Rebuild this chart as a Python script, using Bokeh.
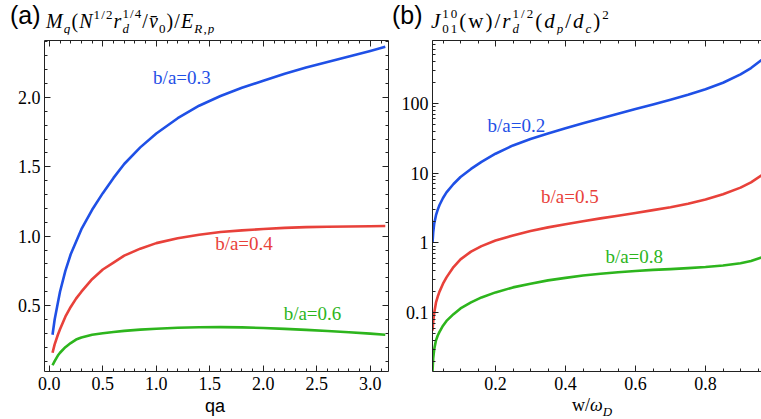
from bokeh.plotting import figure
from bokeh.layouts import row, column
from bokeh.models import (Range1d, LinearAxis, FixedTicker, Label, Div,
                          CustomJSTickFormatter, PrintfTickFormatter)
from bokeh.embed import file_html
from bokeh.resources import INLINE

# ---------------- data ----------------
qa = [0.03, 0.05, 0.08, 0.1, 0.15, 0.2, 0.25, 0.3, 0.4, 0.5, 0.6, 0.7, 0.85, 1.0,
      1.2, 1.4, 1.6, 1.8, 2.0, 2.2, 2.4, 2.6, 2.8, 3.0, 3.14]
m_b03 = [0.29, 0.40, 0.52, 0.60, 0.75, 0.87, 0.96, 1.05, 1.19, 1.31, 1.42, 1.52, 1.64, 1.74,
         1.85, 1.94, 2.01, 2.07, 2.12, 2.17, 2.215, 2.255, 2.295, 2.335, 2.365]
m_b04 = [0.16, 0.22, 0.29, 0.33, 0.42, 0.49, 0.55, 0.60, 0.69, 0.76, 0.81, 0.86, 0.91, 0.95,
         0.985, 1.01, 1.03, 1.042, 1.052, 1.06, 1.065, 1.068, 1.07, 1.072, 1.073]
m_b06 = [0.07, 0.10, 0.14, 0.16, 0.20, 0.23, 0.255, 0.27, 0.29, 0.30, 0.31, 0.318, 0.327, 0.333,
         0.34, 0.344, 0.345, 0.343, 0.338, 0.332, 0.325, 0.317, 0.308, 0.298, 0.29]

w = [0.02, 0.022, 0.025, 0.03, 0.035, 0.04, 0.05, 0.06, 0.08, 0.1, 0.13, 0.16, 0.2, 0.25,
     0.3, 0.35, 0.4, 0.45, 0.5, 0.55, 0.6, 0.65, 0.7, 0.75, 0.8, 0.85, 0.9, 0.93, 0.96]
j_b02 = [1.0, 1.4, 1.9, 2.5, 3.0, 3.5, 4.4, 5.3, 7.0, 8.8, 11.5, 14.5, 19, 25,
         31, 37, 44, 52, 61, 71, 83, 97, 113, 133, 160, 198, 262, 322, 420]
j_b05 = [0.055, 0.075, 0.10, 0.14, 0.17, 0.20, 0.26, 0.32, 0.45, 0.58, 0.75, 0.90, 1.08, 1.28,
         1.48, 1.67, 1.85, 2.05, 2.25, 2.45, 2.68, 2.95, 3.25, 3.65, 4.2, 5.0, 6.2, 7.4, 9.3]
j_b08 = [0.0143, 0.022, 0.030, 0.040, 0.047, 0.053, 0.065, 0.076, 0.095, 0.115, 0.14, 0.165,
         0.195, 0.23, 0.26, 0.29, 0.315, 0.34, 0.36, 0.38, 0.395, 0.41, 0.42, 0.435, 0.45,
         0.475, 0.51, 0.55, 0.62]

left_xticks = [0.0, 0.5, 1.0, 1.5, 2.0, 2.5, 3.0]
left_yticks = [0.5, 1.0, 1.5, 2.0]
right_xticks = [0.2, 0.4, 0.6, 0.8]
right_yticks = [0.1, 1, 10, 100]
right_ylabels = {0.1: "0.1", 1: "1", 10: "10", 100: "100"}

left_notes = [("b/a=0.3", 0.97, 2.14), ("b/a=0.4", 1.55, 0.95), ("b/a=0.6", 2.19, 0.44)]
right_notes = [("b/a=0.2", 0.177, 49), ("b/a=0.5", 0.33, 4.7), ("b/a=0.8", 0.514, 0.63)]

BLUE = "#1f50e6"
RED = "#e8413a"
GREEN = "#2db51d"
COLORS = [BLUE, RED, GREEN]
FRAME = "#222222"
SERIF = "Liberation Serif"
SANS = "Liberation Sans"
TICKFS = "18px"
NOTEFS = "19px"

blank = CustomJSTickFormatter(code="return ''")


def style_axis(ax, labels=True):
    ax.axis_line_color = FRAME
    ax.axis_line_width = 1
    ax.major_tick_in = 6
    ax.major_tick_out = 0
    ax.minor_tick_in = 3
    ax.minor_tick_out = 0
    ax.major_tick_line_color = FRAME
    ax.minor_tick_line_color = FRAME
    ax.major_label_text_font = SERIF
    ax.major_label_text_font_size = TICKFS
    ax.major_label_text_color = "black"
    ax.major_label_standoff = 4
    if not labels:
        ax.formatter = blank
        ax.major_label_standoff = 0


# ---------------- left panel ----------------
p1 = figure(width=398, height=365, output_backend="svg", toolbar_location=None,
            x_range=Range1d(-0.045, 3.17), y_range=Range1d(0.025, 2.41),
            min_border_left=44, min_border_right=10, min_border_top=6,
            min_border_bottom=28)
p1.grid.visible = False
p1.outline_line_color = None

xt1 = FixedTicker(ticks=left_xticks, minor_ticks=[i * 0.1 for i in range(0, 32)])
yt1 = FixedTicker(ticks=left_yticks, minor_ticks=[i * 0.1 for i in range(1, 25)])
p1.xaxis[0].ticker = xt1
p1.yaxis[0].ticker = yt1
style_axis(p1.xaxis[0])
style_axis(p1.yaxis[0])
p1.xaxis[0].formatter = PrintfTickFormatter(format="%.1f")
p1.yaxis[0].formatter = PrintfTickFormatter(format="%.1f")
p1.xaxis[0].major_label_standoff = 5
top1 = LinearAxis(ticker=xt1)
right1 = LinearAxis(ticker=yt1)
style_axis(top1, labels=False)
style_axis(right1, labels=False)
p1.add_layout(top1, "above")
p1.add_layout(right1, "right")

for ys, c in zip([m_b03, m_b04, m_b06], COLORS):
    p1.line(qa, ys, line_color=c, line_width=2.6, line_join="round")
for (txt, x, y), c in zip(left_notes, COLORS):
    p1.add_layout(Label(x=x, y=y, text=txt, text_font=SERIF, text_font_size=NOTEFS,
                        text_color=c, text_baseline="middle", text_align="left"))

# ---------------- right panel ----------------
p2 = figure(width=363, height=365, output_backend="svg", toolbar_location=None,
            x_range=Range1d(0.02, 0.96), y_range=Range1d(0.0143, 800),
            y_axis_type="log",
            min_border_left=34, min_border_right=0, min_border_top=6,
            min_border_bottom=28)
p2.grid.visible = False
p2.outline_line_color = None

xt2 = FixedTicker(ticks=right_xticks, minor_ticks=[i * 0.05 for i in range(1, 20)])
yminor = [k * 10.0 ** e for e in range(-2, 3) for k in range(1, 10)]
yt2 = FixedTicker(ticks=right_yticks, minor_ticks=yminor)
p2.xaxis[0].ticker = xt2
p2.yaxis[0].ticker = yt2
style_axis(p2.xaxis[0])
style_axis(p2.yaxis[0])
p2.xaxis[0].major_label_standoff = 5
p2.yaxis[0].major_label_overrides = right_ylabels
top2 = LinearAxis(ticker=xt2)
style_axis(top2, labels=False)
p2.add_layout(top2, "above")

for ys, c in zip([j_b02, j_b05, j_b08], COLORS):
    p2.line(w, ys, line_color=c, line_width=2.6, line_join="round")
for (txt, x, y), c in zip(right_notes, COLORS):
    p2.add_layout(Label(x=x, y=y, text=txt, text_font=SERIF, text_font_size=NOTEFS,
                        text_color=c, text_baseline="middle", text_align="left"))

# ---------------- titles and axis labels as HTML ----------------
SUB = "font-size:13px;vertical-align:-5px;"
SUP = "font-size:13px;vertical-align:9px;"


def stack(top, bottom):
    return ("<span style='display:inline-block;font-size:13px;line-height:15px;"
            "vertical-align:-5px;'>" + top + "<br>" + bottom + "</span>")


def sub(t):
    return f"<span style='{SUB}'>{t}</span>"


def sup(t):
    return f"<span style='{SUP}'>{t}</span>"


formula_a = ("<i>M</i>" + sub("<i>q</i>") + "(<i>N</i>" + sup("1/2") + "<i>r</i>"
             + stack("1/4", "<i>d</i>") + "/<i>v&#772;</i>" + sub("0") + ")/<i>E</i>"
             + sub("<i>R,p</i>"))
formula_b = ("<i>J</i>" + stack("10", "01") + "(w)/<i>r</i>" + stack("1/2", "<i>d</i>")
             + "(<i>d</i>" + sub("<i>p</i>") + "/<i>d</i>" + sub("<i>c</i>") + ")"
             + sup("2"))

BOX = "position:absolute;white-space:nowrap;"
top_html = (
    "<div style='position:relative;width:761px;height:34px;color:black;'>"
    f"<span style='{BOX}left:10px;top:3px;font-family:{SANS};font-size:25px;line-height:25px;'>(a)</span>"
    f"<span style='{BOX}left:46px;top:5px;font-family:{SERIF};font-size:20px;line-height:20px;letter-spacing:1.1px;'>{formula_a}</span>"
    f"<span style='{BOX}left:392px;top:3px;font-family:{SANS};font-size:25px;line-height:25px;'>(b)</span>"
    f"<span style='{BOX}left:431px;top:4px;font-family:{SERIF};font-size:21px;line-height:21px;letter-spacing:2px;'>{formula_b}</span>"
    "</div>"
)
bottom_html = (
    "<div style='position:relative;width:761px;height:20px;color:black;'>"
    f"<span style='{BOX}left:205px;top:-2px;font-family:{SANS};font-size:18px;line-height:18px;'>qa</span>"
    f"<span style='{BOX}left:572px;top:-3px;font-family:{SERIF};font-size:18px;line-height:18px;'>w/<i>&omega;</i>{sub('<i>D</i>')}</span>"
    "</div>"
)
top_div = Div(text=top_html, width=761, height=34, styles={"margin": "0", "padding": "0"})
bottom_div = Div(text=bottom_html, width=761, height=20, styles={"margin": "0", "padding": "0"})

layout = column(top_div, row(p1, p2), bottom_div, spacing=0)
open("out.html", "w").write(file_html(layout, INLINE))
